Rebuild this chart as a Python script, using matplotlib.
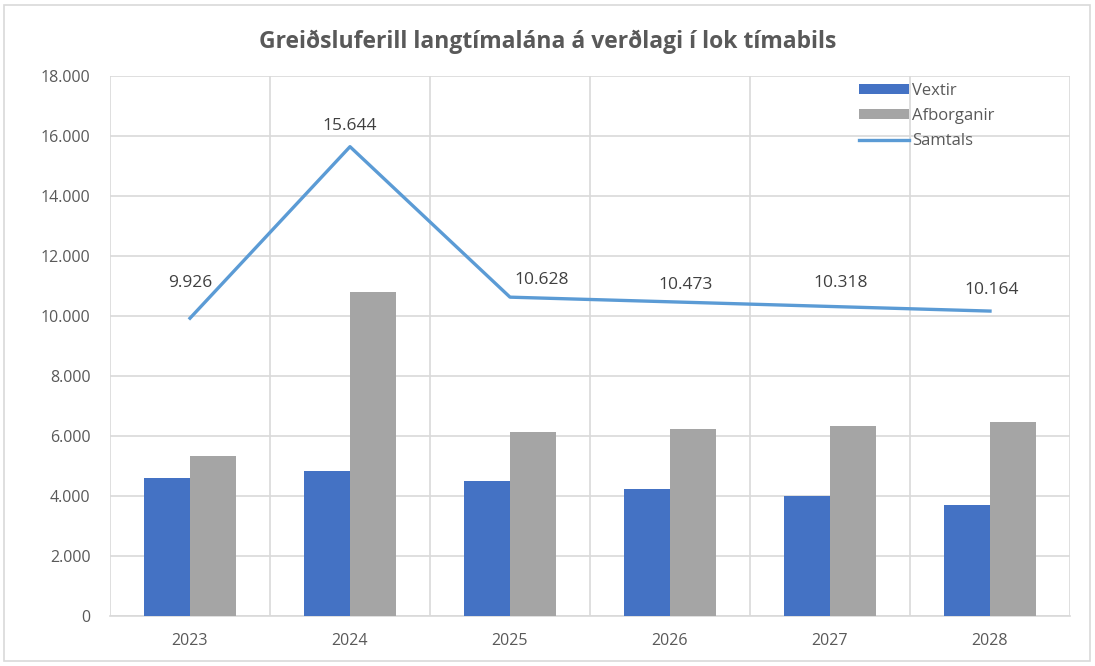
import numpy as np
import matplotlib.pyplot as plt
from matplotlib.ticker import FuncFormatter, MultipleLocator
from matplotlib.patches import Rectangle

years = ['2023', '2024', '2025', '2026', '2027', '2028']
vextir = [4600, 4850, 4500, 4230, 3990, 3700]
afborganir = [5326, 10794, 6128, 6243, 6328, 6464]
samtals = [9926, 15644, 10628, 10473, 10318, 10164]

plt.rcParams['font.family'] = ['Open Sans', 'DejaVu Sans']
grey_txt = '#595959'
grid_col = '#D9D9D9'

fig = plt.figure(figsize=(10.95, 6.66), dpi=100)
fig.patches.append(Rectangle((0.004, 0.008), 0.991, 0.984, transform=fig.transFigure,
                             fill=False, edgecolor='#D9D9D9', linewidth=1.2))
ax = fig.add_axes([110 / 1095, 1 - 616 / 666, 960 / 1095, 540 / 666])

x = np.arange(len(years))
w = 0.285
b1 = ax.bar(x - w / 2, vextir, w, color='#4472C4', label='Vextir', zorder=3)
b2 = ax.bar(x + w / 2, afborganir, w, color='#A5A5A5', label='Afborganir', zorder=3)
ln, = ax.plot(x, samtals, color='#5B9BD5', lw=2.4, label='Samtals', zorder=4)

# label offsets (points) so the totals sit clear of the line
label_dx = [0, 0, 23, 11, 8, 1]
label_dy = [25, 15, 12, 12, 17, 15]
for xi, v, dx, dy in zip(x, samtals, label_dx, label_dy):
    ax.annotate(f'{v:,}'.replace(',', '.'), (xi, v), xytext=(dx, dy),
                textcoords='offset points', ha='center', va='center',
                fontsize=12.5, color='#404040')

ax.set_xlim(-0.5, len(years) - 0.5)
ax.set_ylim(0, 18000)
ax.yaxis.set_major_locator(MultipleLocator(2000))
ax.yaxis.set_major_formatter(FuncFormatter(lambda v, p: f'{int(v):,}'.replace(',', '.')))
ax.set_xticks(x)
ax.set_xticklabels(years)
ax.set_xticks(np.arange(-0.5, len(years)), minor=True)

ax.grid(axis='y', color=grid_col, lw=1.2, zorder=0)
ax.grid(axis='x', which='minor', color=grid_col, lw=1.2, zorder=0)
ax.tick_params(which='both', length=0, colors=grey_txt, labelsize=11.5)
ax.tick_params(axis='y', pad=14)
ax.tick_params(axis='x', pad=12)
for s in ['top', 'right', 'left']:
    ax.spines[s].set_visible(False)
ax.spines['bottom'].set_color(grid_col)
ax.spines['bottom'].set_linewidth(1.2)

fig.text(0.5, 1 - 42 / 666, 'Greiðsluferill langtímalána á verðlagi í lok tímabils',
         ha='center', va='center', fontsize=16.5, fontweight='bold', color=grey_txt)

leg = ax.legend([b1, b2, ln], ['Vextir', 'Afborganir', 'Samtals'],
                loc='upper left', bbox_to_anchor=(0.765, 1.015), frameon=False,
                fontsize=12, labelcolor=grey_txt, handlelength=3.0, handleheight=0.5,
                handletextpad=0.15, labelspacing=0.55)

fig.savefig('out.png', dpi=100)
